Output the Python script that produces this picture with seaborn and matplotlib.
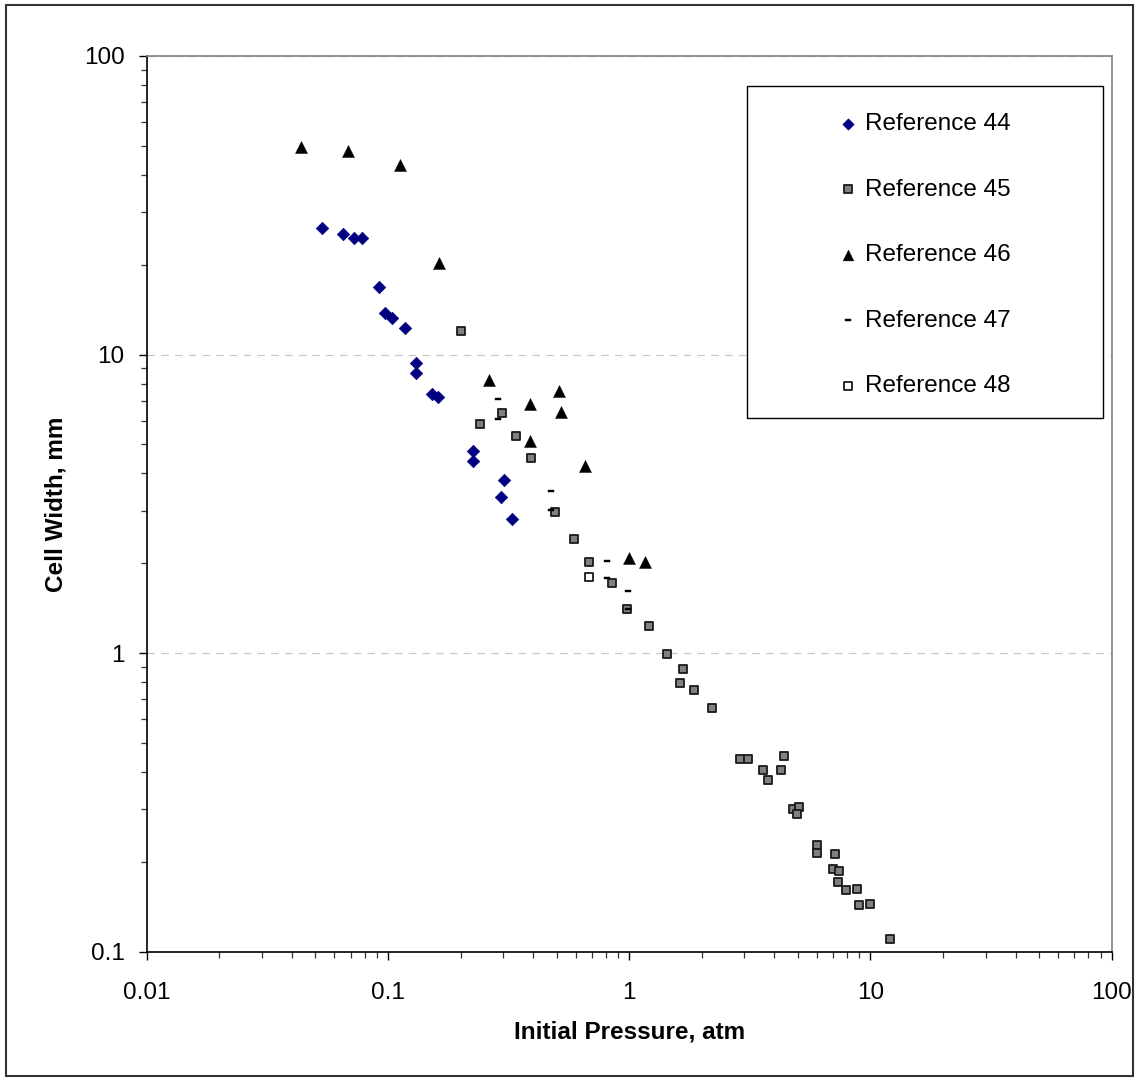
import numpy as np
import pandas as pd
import matplotlib
matplotlib.use("Agg")
import matplotlib.pyplot as plt
import seaborn as sns
from matplotlib.patches import Rectangle
from matplotlib.markers import MarkerStyle
from matplotlib.ticker import LogLocator, FuncFormatter, NullFormatter, FixedLocator

# ---------------- data ----------------
ref44_p = [0.0531, 0.0649, 0.0723, 0.0783, 0.0916, 0.0975, 0.1037, 0.1173, 0.1307,
           0.1307, 0.1527, 0.1608, 0.2259, 0.2259, 0.3027, 0.2934, 0.3277]
ref44_w = [26.5, 25.3, 24.5, 24.5, 16.9, 13.8, 13.3, 12.3, 9.39,
           8.69, 7.35, 7.19, 4.76, 4.40, 3.80, 3.34, 2.81]

ref45_p = [0.200, 0.296, 0.241, 0.340, 0.392, 0.493, 0.592, 0.682, 0.851, 0.976,
           1.211, 1.434, 1.676, 1.628, 1.862, 2.211, 2.888, 3.116, 4.394, 3.585,
           4.258, 3.762, 4.789, 5.056, 4.961, 6.003, 6.003, 7.131, 6.975, 7.430,
           7.360, 7.920, 8.820, 8.966, 9.957, 12.05]
ref45_w = [11.97, 6.39, 5.84, 5.35, 4.50, 2.97, 2.41, 2.015, 1.714, 1.403,
           1.236, 0.992, 0.884, 0.797, 0.751, 0.654, 0.442, 0.442, 0.4535, 0.406,
           0.406, 0.376, 0.300, 0.305, 0.289, 0.228, 0.2143, 0.212, 0.189, 0.187,
           0.171, 0.1607, 0.1627, 0.1435, 0.145, 0.110]

ref46_p = [0.0436, 0.0685, 0.1119, 0.1627, 0.2632, 0.5117, 0.388, 0.5215,
           0.388, 0.658, 0.998, 1.166]
ref46_w = [49.4, 48.0, 43.1, 20.3, 8.22, 7.56, 6.83, 6.41, 5.14, 4.25, 2.08, 2.02]

ref47_p = [0.2851, 0.2851, 0.474, 0.474, 0.8066, 0.8066, 0.9858, 0.9915]
ref47_w = [7.08, 6.08, 3.49, 3.02, 2.04, 1.782, 1.612, 1.403]

ref48_p = [0.6815]
ref48_w = [1.80]

series_labels = ["Reference 44", "Reference 45", "Reference 46", "Reference 47", "Reference 48"]
x_ticks = [0.01, 0.1, 1, 10, 100]
y_ticks = [0.1, 1, 10, 100]

# ---------------- style ----------------
sns.set_style("white")
plt.rcParams["font.family"] = ["Liberation Sans", "DejaVu Sans"]
plt.rcParams["text.color"] = "black"
plt.rcParams["axes.labelcolor"] = "black"
plt.rcParams["xtick.color"] = "black"
plt.rcParams["ytick.color"] = "black"
FS = 17.5

W, H = 1138, 1078
fig = plt.figure(figsize=(W / 100, H / 100), dpi=100)
L, R, T, B = 146.7, 1111.7, 56.0, 951.7
ax = fig.add_axes([L / W, 1 - B / H, (R - L) / W, (B - T) / H])
ax.set_xscale("log")
ax.set_yscale("log")

def frame(p, w):
    return pd.DataFrame({"p": p, "w": w})

dash = MarkerStyle([(-1, -0.42), (1, -0.42), (1, 0.42), (-1, 0.42), (-1, -0.42)])

sns.scatterplot(data=frame(ref44_p, ref44_w), x="p", y="w", ax=ax, marker="D",
                color="#000080", edgecolor="#000080", linewidth=0.5, s=40,
                label=series_labels[0], zorder=3)
sns.scatterplot(data=frame(ref45_p, ref45_w), x="p", y="w", ax=ax, marker="s",
                color="#808080", edgecolor="#1a1a1a", linewidth=1.3, s=40,
                label=series_labels[1], zorder=3)
sns.scatterplot(data=frame(ref46_p, ref46_w), x="p", y="w", ax=ax, marker="^",
                color="black", edgecolor="black", linewidth=0.3, s=75,
                label=series_labels[2], zorder=3)
sns.scatterplot(data=frame(ref47_p, ref47_w), x="p", y="w", ax=ax, marker=dash,
                color="black", edgecolor="black", linewidth=0.3, s=18,
                label=series_labels[3], zorder=3)
sns.scatterplot(data=frame(ref48_p, ref48_w), x="p", y="w", ax=ax, marker="s",
                color="white", edgecolor="#1a1a1a", linewidth=1.3, s=40,
                label=series_labels[4], zorder=3)

ax.set_xlim(0.01, 100)
ax.set_ylim(0.1, 100)

fmt = FuncFormatter(lambda v, pos: f"{v:g}")
ax.xaxis.set_major_locator(FixedLocator(x_ticks))
ax.yaxis.set_major_locator(FixedLocator(y_ticks))
ax.xaxis.set_major_formatter(fmt)
ax.yaxis.set_major_formatter(fmt)
ax.xaxis.set_minor_locator(LogLocator(base=10, subs=np.arange(2, 10), numticks=20))
ax.yaxis.set_minor_locator(LogLocator(base=10, subs=np.arange(2, 10), numticks=20))
ax.xaxis.set_minor_formatter(NullFormatter())
ax.yaxis.set_minor_formatter(NullFormatter())

ax.tick_params(axis="both", which="major", direction="out", length=6, width=1.0,
               color="black", labelcolor="black", labelsize=FS,
               bottom=True, left=True, top=False, right=False)
ax.tick_params(axis="x", which="major", pad=16)
ax.tick_params(axis="y", which="major", pad=10)
ax.tick_params(axis="both", which="minor", direction="out", length=4.5, width=0.9,
               color="#333333", bottom=True, left=True, top=False, right=False)

for side in ["left", "bottom"]:
    ax.spines[side].set_color("black")
    ax.spines[side].set_linewidth(1.2)
for side in ["top", "right"]:
    ax.spines[side].set_color("#808080")
    ax.spines[side].set_linewidth(1.2)

ax.yaxis.grid(True, which="major", linestyle=(0, (6, 5)), color="#c8c8c8", linewidth=0.9)
ax.xaxis.grid(False)
ax.set_axisbelow(True)

ax.set_xlabel("Initial Pressure, atm", fontsize=FS, fontweight="bold", color="black")
ax.set_ylabel("Cell Width, mm", fontsize=FS, fontweight="bold", color="black")
ax.xaxis.set_label_coords((629.5 - L) / (R - L), (B - 1021) / (B - T))
ax.yaxis.set_label_coords((67 - L) / (R - L), 0.5)

# legend box (white, black outline) drawn in figure coordinates
box = Rectangle((747 / W, 1 - 418 / H), (1103 - 747) / W, (418 - 86) / H,
                transform=fig.transFigure, facecolor="white", edgecolor="black",
                linewidth=1.0, zorder=4, clip_on=False)
ax.add_patch(box)

leg = ax.legend(loc="upper left", bbox_to_anchor=(838 / W, 1 - 113 / H),
                bbox_transform=fig.transFigure, frameon=False, borderpad=0,
                borderaxespad=0, handlelength=0.8, handletextpad=0.3,
                labelspacing=1.79, fontsize=FS, markerscale=0.9, scatterpoints=1)
for t in leg.get_texts():
    t.set_color("black")
leg.set_zorder(6)

# outer figure border
fig.add_artist(Rectangle((5.5 / W, 2 / H), (1133 - 5.5) / W, (1076 - 5) / H,
                         transform=fig.transFigure, facecolor="none",
                         edgecolor="#333333", linewidth=1.5))

fig.savefig("out.png", dpi=100)
